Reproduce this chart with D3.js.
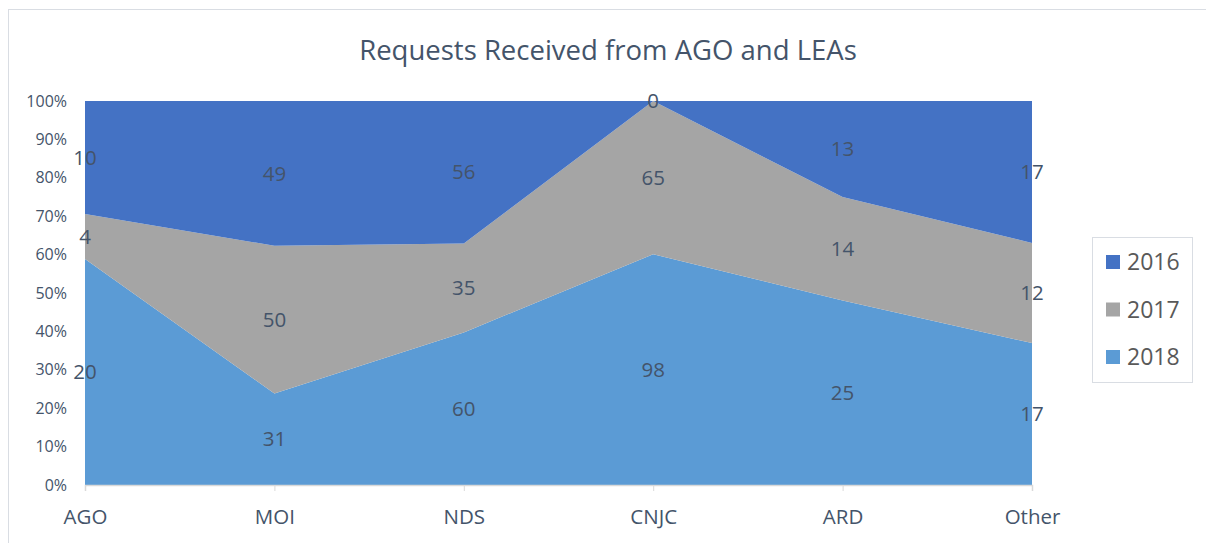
<!DOCTYPE html>
<html>
<head>
<meta charset="utf-8">
<script src="https://cdn.jsdelivr.net/npm/d3@7"></script>
<style>
  body { margin: 0; background: #fff; }
  text { font-family: "Open Sans", "Noto Sans", sans-serif; }
</style>
</head>
<body>
<div id="chart"></div>
<script>
var categories = ["AGO", "MOI", "NDS", "CNJC", "ARD", "Other"];
var series2018 = [20, 31, 60, 98, 25, 17];
var series2017 = [4, 50, 35, 65, 14, 12];
var series2016 = [10, 49, 56, 0, 13, 17];
var yTicks = [0, 0.1, 0.2, 0.3, 0.4, 0.5, 0.6, 0.7, 0.8, 0.9, 1];
var seriesNames = ["2018", "2017", "2016"];
var seriesColors = {"2016": "#4472C4", "2017": "#A5A5A5", "2018": "#5B9BD5"};

var width = 1206, height = 543;
var margin = {left: 85, right: 174, top: 101, bottom: 58};
var textColor = "#44546A";

var svg = d3.select("#chart").append("svg")
    .attr("width", width).attr("height", height);

// chart frame
svg.append("rect")
    .attr("x", 8.5).attr("y", 9.5)
    .attr("width", 1230).attr("height", 560)
    .attr("fill", "none")
    .attr("stroke", "#d9dde3");

svg.append("text")
    .attr("x", 608)
    .attr("y", 60)
    .attr("text-anchor", "middle")
    .attr("font-size", "27.5px")
    .attr("fill", textColor)
    .text("Requests Received from AGO and LEAs");

var rows = categories.map(function(c, i) {
    var total = series2018[i] + series2017[i] + series2016[i];
    return {
        cat: c,
        "2018": series2018[i] / total,
        "2017": series2017[i] / total,
        "2016": series2016[i] / total,
        raw: {"2018": series2018[i], "2017": series2017[i], "2016": series2016[i]}
    };
});

var stack = d3.stack().keys(seriesNames);
var layers = stack(rows);

var x = d3.scalePoint()
    .domain(categories)
    .range([margin.left, width - margin.right]);

var y = d3.scaleLinear()
    .domain([0, 1])
    .range([height - margin.bottom, margin.top]);

var area = d3.area()
    .x(function(d) { return x(d.data.cat); })
    .y0(function(d) { return y(d[0]); })
    .y1(function(d) { return y(d[1]); });

svg.selectAll("path.layer").data(layers)
    .enter().append("path")
    .attr("class", "layer")
    .attr("d", area)
    .attr("fill", function(d) { return seriesColors[d.key]; });

// x axis line and ticks
var xAxis = svg.append("g")
    .attr("transform", "translate(0," + y(0) + ")")
    .call(d3.axisBottom(x).tickSize(6).tickPadding(18));
xAxis.select(".domain").attr("stroke", "#d9d9d9").attr("stroke-width", 1.5);
xAxis.selectAll(".tick line").attr("stroke", "#d9d9d9");
xAxis.selectAll(".tick text")
    .attr("font-size", "20.5px")
    .attr("fill", textColor);

// y axis labels
var yAxis = svg.append("g")
    .attr("transform", "translate(" + (margin.left - 18) + ",0)")
    .call(d3.axisLeft(y).tickValues(yTicks).tickFormat(d3.format(".0%")).tickSize(0).tickPadding(0));
yAxis.select(".domain").remove();
yAxis.selectAll(".tick text")
    .attr("font-size", "16px")
    .attr("fill", textColor);

// data labels
layers.forEach(function(layer) {
    svg.selectAll("text.lbl" + layer.key).data(layer)
        .enter().append("text")
        .attr("x", function(d) { return x(d.data.cat); })
        .attr("y", function(d) { return y((d[0] + d[1]) / 2); })
        .attr("dy", "0.35em")
        .attr("text-anchor", "middle")
        .attr("font-size", "20.5px")
        .attr("fill", textColor)
        .text(function(d) { return d.data.raw[layer.key]; });
});

// legend
var legend = svg.append("g").attr("transform", "translate(1092,237)");
legend.append("rect")
    .attr("x", 0.5).attr("y", 0.5)
    .attr("width", 100).attr("height", 145)
    .attr("fill", "#fff")
    .attr("stroke", "#d9dde3");

var legendKeys = ["2016", "2017", "2018"];
legendKeys.forEach(function(k, i) {
    var ly = 25 + i * 47.5;
    legend.append("rect")
        .attr("x", 14).attr("y", ly - 7)
        .attr("width", 14).attr("height", 14)
        .attr("fill", seriesColors[k]);
    legend.append("text")
        .attr("x", 35).attr("y", ly)
        .attr("dy", "0.36em")
        .attr("font-size", "23px")
        .attr("fill", "#595959")
        .text(k);
});
</script>
</body>
</html>
